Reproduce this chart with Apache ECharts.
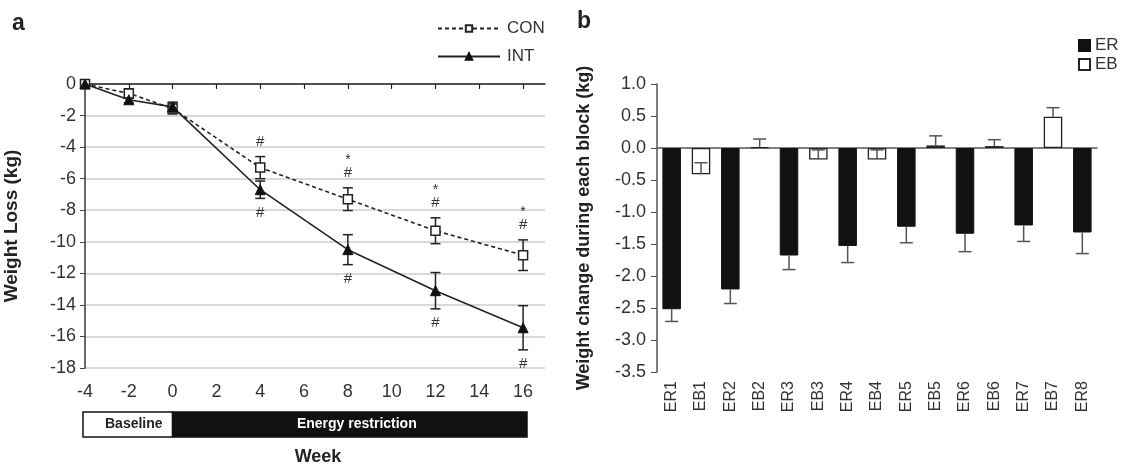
<!DOCTYPE html>
<html><head><meta charset="utf-8">
<script src="https://cdn.jsdelivr.net/npm/echarts@6/dist/echarts.min.js"></script>
<style>html,body{margin:0;padding:0;background:#fff}#c{width:1124px;height:467px}</style>
</head><body><div id="c"></div>
<script>
// ---- Panel a data ----
const weeks = [-4, -2, 0, 4, 8, 12, 16];
const weekTicks = [-4, -2, 0, 2, 4, 6, 8, 10, 12, 14, 16];
const conMean = [0, -0.6, -1.55, -5.3, -7.3, -9.3, -10.85];
const conSE = [0, 0.3, 0.35, 0.7, 0.72, 0.82, 0.97];
const intMean = [0, -1.0, -1.45, -6.7, -10.5, -13.1, -15.45];
const intSE = [0, 0.2, 0.3, 0.55, 0.95, 1.15, 1.4];
const conHash = [0, 0, 0, 1, 1, 1, 1];
const conStar = [0, 0, 0, 0, 1, 1, 1];
const intHash = [0, 0, 0, 1, 1, 1, 1];
const phaseNames = ['Baseline', 'Energy restriction'];
const phaseFrom = [-4, 0];
const phaseTo = [0, 16];

// ---- Panel b data ----
const blocks = ['ER1','EB1','ER2','EB2','ER3','EB3','ER4','EB4','ER5','EB5','ER6','EB6','ER7','EB7','ER8'];
const erValues = [-2.52, -2.21, -1.68, -1.53, -1.23, -1.34, -1.21, -1.32];
const erSE = [0.19, 0.22, 0.22, 0.26, 0.25, 0.28, 0.25, 0.33];
const ebValues = [-0.41, 0.01, -0.18, -0.18, 0.04, 0.03, 0.49];
const ebSE = [0.18, 0.13, 0.15, 0.15, 0.15, 0.10, 0.14];

const FONT = 'Liberation Sans, Arial, sans-serif';
const TXT = '#333';

let ei = 0, bi = 0;
const erData = [], ebData = [], barErr = [];
blocks.forEach((b, i) => {
  if (b.startsWith('ER')) {
    const v = erValues[ei], s = erSE[ei]; ei++;
    erData.push(v); ebData.push('-'); barErr.push([i, v, v - s]);
  } else {
    const v = ebValues[bi], s = ebSE[bi]; bi++;
    erData.push('-'); ebData.push(v); barErr.push([i, v, v + s]);
  }
});

function lineErr(kind) {
  return function (params, api) {
    const x = api.value(0), m = api.value(1), s = api.value(2);
    const top = api.coord([x, m + s]), bot = api.coord([x, m - s]);
    const ch = [];
    const st = { stroke: '#222', lineWidth: 1.5 };
    if (s > 0) {
      ch.push({ type: 'line', shape: { x1: top[0], y1: top[1], x2: bot[0], y2: bot[1] }, style: st });
      ch.push({ type: 'line', shape: { x1: top[0] - 5, y1: top[1], x2: top[0] + 5, y2: top[1] }, style: st });
      ch.push({ type: 'line', shape: { x1: bot[0] - 5, y1: bot[1], x2: bot[0] + 5, y2: bot[1] }, style: st });
    }
    const tstyle = (t, y, fs) => ({ type: 'text', style: { text: t, x: top[0], y: y, textAlign: 'center', textVerticalAlign: 'middle', font: fs + 'px ' + FONT, fill: '#333' } });
    if (kind === 'con') {
      if (api.value(3)) ch.push(tstyle('#', top[1] - 15, 15));
      if (api.value(4)) ch.push(tstyle('*', top[1] - 28, 14));
    } else {
      if (api.value(3)) ch.push(tstyle('#', bot[1] + 14, 15));
    }
    return { type: 'group', children: ch };
  };
}

const option = {
  animation: false,
  backgroundColor: '#fff',
  textStyle: { fontFamily: FONT },
  graphic: [
    { type: 'text', left: 12, top: 12, style: { text: 'a', font: 'bold 23px ' + FONT, fill: '#222' } },
    { type: 'text', left: 577, top: 10, style: { text: 'b', font: 'bold 23px ' + FONT, fill: '#222' } },
    { type: 'text', x: 318, y: 457, style: { text: 'Week', font: 'bold 18px ' + FONT, fill: '#222', textAlign: 'center', textVerticalAlign: 'middle' } }
  ],
  legend: [
    { data: ['CON', 'INT'], orient: 'vertical', left: 437, top: 20, padding: 0, itemWidth: 62, itemHeight: 8, itemGap: 11,
      textStyle: { fontSize: 17, color: TXT, fontFamily: FONT, padding: [0, 0, 0, 2] } },
    { data: ['ER', 'EB'], orient: 'vertical', left: 1078, top: 37, padding: 0, itemWidth: 11, itemHeight: 11, itemGap: 2, icon: 'rect',
      textStyle: { fontSize: 17, color: TXT, fontFamily: FONT, padding: [0, 0, 0, 0] } }
  ],
  grid: [
    { left: 85, top: 84, width: 460, height: 284 },
    { left: 657, top: 84, width: 440, height: 288 },
    { left: 85, top: 412, width: 438, height: 25 }
  ],
  xAxis: [
    { type: 'value', gridIndex: 0, min: -4, max: 17, position: 'top',
      axisLine: { show: true, onZero: false, lineStyle: { color: '#222', width: 1.6 } },
      axisTick: { show: true, inside: true, length: 5, customValues: weekTicks, lineStyle: { color: '#222', width: 1.2 } },
      axisLabel: { show: false }, splitLine: { show: false } },
    { type: 'value', gridIndex: 0, min: -4, max: 17, position: 'bottom',
      axisLine: { show: false, onZero: false }, axisTick: { show: false },
      axisLabel: { show: true, customValues: weekTicks, margin: 15, fontSize: 18, color: TXT, fontFamily: FONT },
      splitLine: { show: false } },
    { type: 'category', gridIndex: 1, data: blocks, position: 'bottom',
      axisLine: { show: false, onZero: false }, axisTick: { show: false },
      axisLabel: { rotate: 90, margin: 9, fontSize: 16, color: TXT, fontFamily: FONT, interval: 0 } },
    { type: 'category', gridIndex: 1, data: blocks, position: 'top',
      axisLine: { show: true, onZero: true, lineStyle: { color: '#555', width: 1.5 } }, axisTick: { show: false },
      axisLabel: { show: false } },
    { type: 'value', gridIndex: 2, min: -4, max: 16, show: false }
  ],
  yAxis: [
    { type: 'value', gridIndex: 0, min: -18, max: 0, interval: 2,
      name: 'Weight Loss (kg)', nameLocation: 'middle', nameGap: 64,
      nameTextStyle: { fontSize: 19, fontWeight: 'bold', color: '#222', fontFamily: FONT },
      axisLine: { show: true, onZero: false, lineStyle: { color: '#444', width: 1.6 } },
      axisTick: { show: true, length: 5, lineStyle: { color: '#444' } },
      axisLabel: { margin: 9, fontSize: 18, color: TXT, fontFamily: FONT },
      splitLine: { show: true, lineStyle: { color: '#ccc', width: 1.5 } } },
    { type: 'value', gridIndex: 1, min: -3.5, max: 1, interval: 0.5,
      name: 'Weight change during each block (kg)', nameLocation: 'middle', nameGap: 64,
      nameTextStyle: { fontSize: 18, fontWeight: 'bold', color: '#222', fontFamily: FONT },
      axisLine: { show: true, onZero: false, lineStyle: { color: '#555', width: 1.5 } },
      axisTick: { show: true, length: 6, lineStyle: { color: '#555' } },
      axisLabel: { margin: 11, fontSize: 18, color: TXT, fontFamily: FONT, formatter: v => v.toFixed(1) },
      splitLine: { show: false } },
    { type: 'value', gridIndex: 2, min: 0, max: 1, show: false }
  ],
  series: [
    { name: 'CON_err', type: 'custom', xAxisIndex: 0, yAxisIndex: 0, z: 1,
      data: weeks.map((w, i) => [w, conMean[i], conSE[i], conHash[i], conStar[i]]),
      renderItem: lineErr('con') },
    { name: 'INT_err', type: 'custom', xAxisIndex: 0, yAxisIndex: 0, z: 1,
      data: weeks.map((w, i) => [w, intMean[i], intSE[i], intHash[i]]),
      renderItem: lineErr('int') },
    { name: 'CON', type: 'line', xAxisIndex: 0, yAxisIndex: 0, z: 3,
      data: weeks.map((w, i) => [w, conMean[i]]),
      symbol: 'rect', symbolSize: 9, showAllSymbol: true,
      lineStyle: { color: '#222', width: 1.6, type: [4, 3] },
      itemStyle: { color: '#fff', borderColor: '#222', borderWidth: 1.5 } },
    { name: 'INT', type: 'line', xAxisIndex: 0, yAxisIndex: 0, z: 4,
      data: weeks.map((w, i) => [w, intMean[i]]),
      symbol: 'triangle', symbolSize: 10, showAllSymbol: true,
      lineStyle: { color: '#222', width: 1.6, type: 'solid' },
      itemStyle: { color: '#111', borderColor: '#111', borderWidth: 1 } },
    { name: 'ER', type: 'bar', xAxisIndex: 2, yAxisIndex: 1, data: erData, barWidth: 18.5, barGap: '-100%',
      itemStyle: { color: '#111', borderColor: '#111', borderWidth: 1 } },
    { name: 'EB', type: 'bar', xAxisIndex: 2, yAxisIndex: 1, data: ebData, barWidth: 18.5, barGap: '-100%',
      itemStyle: { color: '#fff', borderColor: '#222', borderWidth: 1.3 } },
    { name: 'bar_err', type: 'custom', xAxisIndex: 2, yAxisIndex: 1, z: 5,
      data: barErr,
      renderItem: function (params, api) {
        const i = api.value(0);
        const a = api.coord([i, api.value(1)]), b = api.coord([i, api.value(2)]);
        const st = { stroke: '#555', lineWidth: 1.5 };
        return { type: 'group', children: [
          { type: 'line', shape: { x1: a[0], y1: a[1], x2: b[0], y2: b[1] }, style: st },
          { type: 'line', shape: { x1: b[0] - 6.5, y1: b[1], x2: b[0] + 6.5, y2: b[1] }, style: st }
        ] };
      } },
    { name: 'phases', type: 'custom', xAxisIndex: 4, yAxisIndex: 2,
      data: phaseNames.map((n, i) => [phaseFrom[i], phaseTo[i], i]),
      renderItem: function (params, api) {
        const i = api.value(2);
        const p1 = api.coord([api.value(0), 1]), p2 = api.coord([api.value(1), 0]);
        let x1 = p1[0], x2 = p2[0];
        if (i === 0) x1 -= 2;
        if (i === phaseNames.length - 1) x2 += 4;
        const dark = i > 0;
        return { type: 'group', children: [
          { type: 'rect', shape: { x: x1, y: p1[1], width: x2 - x1, height: p2[1] - p1[1] },
            style: { fill: dark ? '#111' : '#fff', stroke: '#111', lineWidth: 1.5 } },
          { type: 'text', style: { text: phaseNames[i], x: (x1 + x2) / 2 + (dark ? 7 : 6), y: (p1[1] + p2[1]) / 2,
            textAlign: 'center', textVerticalAlign: 'middle', font: 'bold 14px ' + FONT, fill: dark ? '#fff' : '#222' } }
        ] };
      } }
  ]
};
echarts.init(document.getElementById('c'), null, { renderer: 'canvas' }).setOption(option);
</script></body></html>
